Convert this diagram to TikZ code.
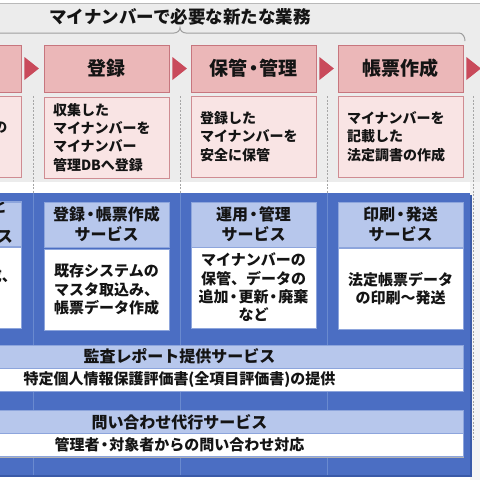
\documentclass[tikz,border=0pt]{standalone}
\usepackage{fontspec}
\setmainfont{Noto Sans CJK JP}
\usetikzlibrary{calc}
\newcommand\nkdot{\kern-0.17em・\kern-0.17em}
\definecolor{bggray}{HTML}{ECECEC}
\definecolor{pinkhead}{HTML}{EBB7B8}
\definecolor{pinkborder}{HTML}{C7767E}
\definecolor{pinkbody}{HTML}{F9E4E4}
\definecolor{pinkborder2}{HTML}{CF8C92}
\definecolor{arrowred}{HTML}{C94A5B}
\definecolor{blueback}{HTML}{4B6EC3}
\definecolor{bluedark}{HTML}{3A5AA8}
\definecolor{bluesep}{HTML}{6A8ACF}
\definecolor{lightblue}{HTML}{B7C7EC}
\definecolor{blueborder}{HTML}{8DA5DC}
\definecolor{txt}{HTML}{141414}
\tikzset{
  shadowed/.style={preaction={fill=black!30,transform canvas={xshift=1pt,yshift=-1pt}}},
  phead/.style={shadowed,draw=pinkborder,line width=0.8pt,fill=pinkhead,minimum width=125,minimum height=47,inner sep=0pt,text=txt,font=\bfseries\fontsize{19}{22}\selectfont},
  pbody/.style={shadowed,draw=pinkborder2,line width=0.8pt,fill=pinkbody,minimum width=125,minimum height=81,inner sep=0pt,text width=107,align=left,text=txt,font=\bfseries\fontsize{14}{18.3}\selectfont},
  shead/.style={draw=blueborder,line width=0.6pt,fill=lightblue,minimum width=125,minimum height=45,inner sep=0pt,align=center,text=txt,font=\bfseries\fontsize{16}{20}\selectfont},
  sbody/.style={shadowed,draw=blueborder,line width=0.6pt,fill=white,minimum width=125,minimum height=81,inner sep=0pt,align=center,text=txt,font=\bfseries\fontsize{15}{18.3}\selectfont},
  whead/.style={draw=blueborder,line width=0.6pt,fill=lightblue,minimum width=567,minimum height=23,inner sep=0pt,text=txt,font=\bfseries\fontsize{16}{18}\selectfont},
  wbody/.style={shadowed,draw=blueborder,line width=0.6pt,fill=white,minimum width=567,minimum height=23,inner sep=0pt,text=txt,font=\bfseries\fontsize{15}{18}\selectfont},
  frag/.style={inner sep=0pt,text=txt,font=\bfseries\fontsize{15}{18}\selectfont},
  sepdash/.style={draw=gray!70,dashed,line width=0.7pt,dash pattern=on 2pt off 1.5pt},
  arrowtri/.style={fill=arrowred},
}
\begin{document}
\begin{tikzpicture}[x=1pt,y=-1pt]
\useasboundingbox (0,0) rectangle (480,480);
\clip (0,0) rectangle (480,480);
\fill[white] (0,0) rectangle (480,480);
\fill[bggray] (0,3) rectangle (480,182);
\fill[bggray!60] (470,182) rectangle (480,480);
\draw[gray!55,line width=0.8pt] (0,3) -- (480,3);

% title and brace
\node[text=txt,font=\bfseries\fontsize{17.5}{20}\selectfont,inner sep=0pt] (title) at (180,17) {マイナンバーで必要な新たな業務};
\coordinate (bl) at (0,33);
\coordinate (bm) at (180,27.5);
\coordinate (br) at (465,41);
\draw[gray!75,line width=1pt] (bl) -- (174,33) to[out=0,in=-90] (bm) to[out=-90,in=180] (186,33) -- (459,33) to[out=0,in=90] (br);

% dashed separators (top part)
\foreach \x/\n in {33/a,180/b,327/c}{
  \coordinate (d\n1) at (\x,96);
  \coordinate (d\n2) at (\x,193);
  \draw[sepdash] (d\n1) -- (d\n2);
}
\coordinate (dd1) at (473.5,96);
\coordinate (dd2) at (473.5,440);
\draw[sepdash] (dd1) -- (dd2);

% blue region
\fill[bluedark] (-10,195) rectangle (472,477);
\fill[blueback] (-10,193) rectangle (470,475);
\foreach \x/\n in {33/a,180/b,327/c}{
  \coordinate (s\n1) at (\x,193);
  \coordinate (s\n2) at (\x,475);
  \draw[bluesep,line width=0.8pt] (s\n1) -- (s\n2);
}

% top process boxes
\node[phead] (h1) at (-41.5,68.5) {};
\node[phead] (h2) at (106.5,68.5) {登録};
\node[phead] (h3) at (253.5,68.5) {保管\nkdot 管理};
\node[phead] (h4) at (400.5,68.5) {帳票作成};
\node[pbody] (b1) at (-41.5,136.5) {};
\node[pbody] (b2) at (106.5,137.5) {収集した\\マイナンバーを\\マイナンバー\\管理DBへ登録};
\node[pbody] (b3) at (253.5,136.5) {登録した\\マイナンバーを\\安全に保管};
\node[pbody] (b4) at (400.5,136.5) {マイナンバーを\\記載した\\法定調書の作成};
\node[frag,anchor=east,font=\bfseries\fontsize{14}{18}\selectfont] (f1) at (7.5,128) {の};

% arrows
\foreach \n in {1,2,3,4}{
  \fill[arrowtri] ($(h\n.east)+(3,-11.5)$) -- ($(h\n.east)+(17.5,0)$) -- ($(h\n.east)+(3,11.5)$) -- cycle;
}

% service boxes
\node[shead] (sh1) at (-41.5,224.5) {};
\node[shead] (sh2) at (106.5,224.5) {登録\nkdot 帳票作成\\サービス};
\node[shead] (sh3) at (253.5,224.5) {運用\nkdot 管理\\サービス};
\node[shead] (sh4) at (400.5,224.5) {印刷\nkdot 発送\\サービス};
\node[sbody] (sb1) at (-41.5,287.5) {};
\node[sbody] (sb2) at (106.5,289.5) {既存システムの\\マスタ取込み、\\帳票データ作成};
\node[sbody] (sb3) at (253.5,287.5) {マイナンバーの\\保管、データの\\追加\nkdot 更新\nkdot 廃棄\\など};
\node[sbody] (sb4) at (400.5,288.5) {法定帳票データ\\の印刷～発送};
\node[frag,anchor=east] (f2) at (7,207) {と};
\node[frag,anchor=east,font=\bfseries\fontsize{16}{18}\selectfont] (f3) at (13,236.5) {ス};
\node[frag,anchor=east] (f4) at (17,276) {成、};
\draw[blueborder,line width=0.6pt] (sh1.north east) rectangle (sh1.south west);
\draw[blueborder,line width=0.6pt] (sb1.north east) rectangle (sb1.south west);

% wide rows
\node[whead] (ah) at (179.5,356.5) {監査レポート提供サービス};
\node[wbody] (ab) at (179.5,379.5) {特定個人情報保護評価書(全項目評価書)の提供};
\node[whead] (ih) at (179.5,422) {問い合わせ代行サービス};
\node[wbody] (ib) at (179.5,445) {管理者\nkdot 対象者からの問い合わせ対応};
\end{tikzpicture}
\end{document}
